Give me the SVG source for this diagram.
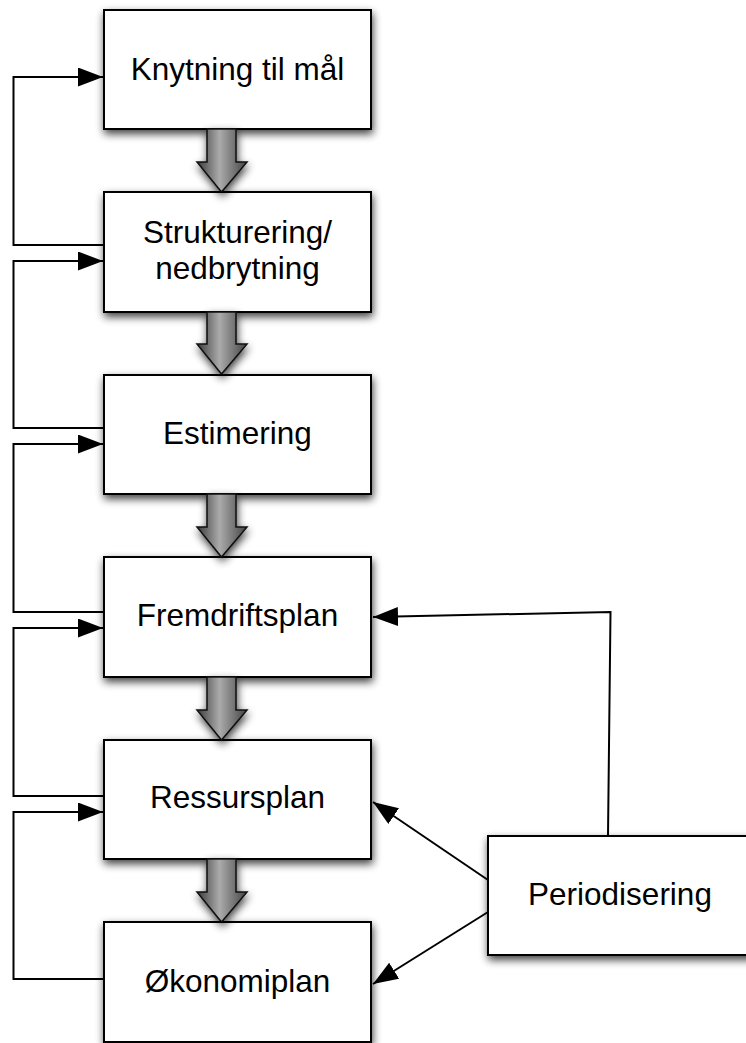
<svg xmlns="http://www.w3.org/2000/svg" width="746" height="1043" viewBox="0 0 746 1043">
  <defs>
    <!-- soft drop shadow under boxes and block arrows -->
    <filter id="shadow" x="-20%" y="-20%" width="140%" height="150%">
      <feGaussianBlur in="SourceAlpha" stdDeviation="4"/>
      <feOffset dx="1" dy="4" result="off"/>
      <feComponentTransfer>
        <feFuncA type="linear" slope="0.75"/>
      </feComponentTransfer>
      <feMerge>
        <feMergeNode/>
        <feMergeNode in="SourceGraphic"/>
      </feMerge>
    </filter>
    <linearGradient id="flowFill" x1="0" y1="0" x2="1" y2="0">
      <stop offset="0" stop-color="#3a3a3a"/>
      <stop offset="0.45" stop-color="#ababab"/>
      <stop offset="1" stop-color="#444444"/>
    </linearGradient>
    <marker id="arrow" markerUnits="userSpaceOnUse" markerWidth="27" markerHeight="21" viewBox="0 0 27 21" refX="25" refY="9.5" orient="auto">
      <path d="M0,0 L25,9.5 L0,19 Z" fill="#000"/>
    </marker>
  </defs>
  <style>
    .box rect { fill: #ffffff; stroke: #000000; stroke-width: 2; filter: url(#shadow); }
    .box text { font-family: "Liberation Sans", Arial, Helvetica, sans-serif; font-size: 31.5px; text-anchor: middle; fill: #000000; }
    .link { fill: none; stroke: #000000; stroke-width: 2; marker-end: url(#arrow); }
    .flow { fill: url(#flowFill); stroke: #111111; stroke-width: 1.5; stroke-linejoin: miter; filter: url(#shadow); }
  </style>

  <!-- process steps -->
  <g id="knytning" class="box">
    <rect x="104" y="10" width="267" height="119"/>
    <text x="237.5" y="80">Knytning til mål</text>
  </g>
  <g id="strukturering" class="box">
    <rect x="104" y="192" width="267" height="120"/>
    <text x="237.5" y="243">Strukturering/</text>
    <text x="237.5" y="279">nedbrytning</text>
  </g>
  <g id="estimering" class="box">
    <rect x="104" y="375" width="267" height="119"/>
    <text x="237.5" y="444">Estimering</text>
  </g>
  <g id="fremdriftsplan" class="box">
    <rect x="104" y="557" width="267" height="120"/>
    <text x="237.5" y="626">Fremdriftsplan</text>
  </g>
  <g id="ressursplan" class="box">
    <rect x="104" y="740" width="267" height="119"/>
    <text x="237.5" y="808">Ressursplan</text>
  </g>
  <g id="okonomiplan" class="box">
    <rect x="104" y="922" width="267" height="120"/>
    <text x="237.5" y="992">Økonomiplan</text>
  </g>
  <g id="periodisering" class="box">
    <rect x="488" y="836" width="267" height="119"/>
    <text x="620" y="905">Periodisering</text>
  </g>

  <!-- connectors -->
  <g id="connectors">
    <!-- main flow: block arrows between steps -->
    <path class="flow" d="M207,129 H236 V162 H247 L221.5,192 L197,162 H207 Z"/>
    <path class="flow" d="M207,312 H236 V344 H247 L221.5,374 L197,344 H207 Z"/>
    <path class="flow" d="M207,494 H236 V527 H247 L221.5,557 L197,527 H207 Z"/>
    <path class="flow" d="M207,677 H236 V710 H247 L221.5,740 L197,710 H207 Z"/>
    <path class="flow" d="M207,859 H236 V892 H247 L221.5,922 L197,892 H207 Z"/>

    <!-- feedback loops on the left -->
    <path class="link" d="M104,245 H13.5 V77 H103"/>
    <path class="link" d="M104,428 H13.5 V261 H103"/>
    <path class="link" d="M104,612 H13.5 V444 H103"/>
    <path class="link" d="M104,796 H13.5 V628 H103"/>
    <path class="link" d="M104,979 H13.5 V812 H103"/>

    <!-- inputs from Periodisering -->
    <path class="link" d="M608,836 L610.5,612 L373,617"/>
    <path class="link" d="M488,880 L373,802"/>
    <path class="link" d="M488,912 L373,984"/>
  </g>
</svg>
